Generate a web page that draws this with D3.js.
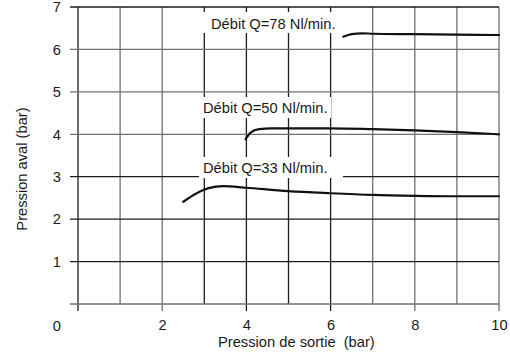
<!DOCTYPE html>
<html>
<head>
<meta charset="utf-8">
<script src="https://cdn.jsdelivr.net/npm/d3@7"></script>
<style>
  html, body { margin: 0; padding: 0; background: #fff; }
  svg text { font-family: "Liberation Sans", Arial, Helvetica, sans-serif; fill: #1a1a1a; }
</style>
</head>
<body>
<svg id="chart" width="510" height="354"></svg>
<script>
// Outlet pressure curves for three flow rates
const flowLabels = ["Débit Q=78 Nl/min.", "Débit Q=50 Nl/min.", "Débit Q=33 Nl/min."];

const q78X = [6.3, 6.5, 6.75, 7, 8, 9, 10];
const q78Y = [6.3, 6.36, 6.38, 6.37, 6.36, 6.35, 6.34];

const q50X = [3.98, 4.1, 4.3, 4.6, 5, 6, 7, 8, 9, 10];
const q50Y = [3.88, 4.04, 4.12, 4.14, 4.14, 4.14, 4.12, 4.09, 4.05, 4.0];

const q33X = [2.5, 2.8, 3.1, 3.45, 4, 5, 6, 7, 8, 9, 10];
const q33Y = [2.41, 2.6, 2.73, 2.78, 2.74, 2.66, 2.61, 2.57, 2.55, 2.54, 2.54];

const xTickValues = [2, 4, 6, 8, 10];
const yTickValues = [1, 2, 3, 4, 5, 6, 7];
const xGridValues = [0, 1, 2, 3, 4, 5, 6, 7, 8, 9, 10];
const yGridValues = [0, 1, 2, 3, 4, 5, 6, 7];

const xTitle = "Pression de sortie  (bar)";
const yTitle = "Pression aval (bar)";

const FS = 14.7;
const svg = d3.select("#chart");
const x = d3.scaleLinear().domain([0, 10]).range([78, 499]);
const y = d3.scaleLinear().domain([0, 7]).range([304, 7]);

const dark = "#1c1c1c", grey = "#707070";
const vShade = v => ([0, 3, 4, 5, 6].includes(v) ? dark : grey);
const hShade = v => ([1, 2, 3, 7].includes(v) ? dark : grey);

// grid
const grid = svg.append("g").attr("stroke-width", 1.3);
grid.selectAll("line.v").data(xGridValues).join("line")
  .attr("class", "v")
  .attr("x1", d => x(d)).attr("x2", d => x(d))
  .attr("y1", y(7))
  .attr("y2", d => (d % 2 === 0 ? y(0) + 7 : y(0)))
  .attr("stroke", d => vShade(d));
grid.selectAll("line.h").data(yGridValues).join("line")
  .attr("class", "h")
  .attr("x1", x(0) - 8).attr("x2", x(10))
  .attr("y1", d => y(d)).attr("y2", d => y(d))
  .attr("stroke", d => hShade(d));

// axes (labels only)
const xAxis = d3.axisBottom(x).tickValues(xTickValues).tickFormat(d3.format("d"))
  .tickSize(0).tickPadding(16);
const gx = svg.append("g").attr("transform", `translate(0,${y(0)})`).call(xAxis);
gx.select(".domain").remove();
gx.selectAll("text").attr("font-size", FS).style("font-family", null);

const yAxis = d3.axisLeft(y).tickValues(yTickValues).tickFormat(d3.format("d"))
  .tickSize(0).tickPadding(9);
const gy = svg.append("g").attr("transform", `translate(${x(0) - 8},0)`).call(yAxis);
gy.select(".domain").remove();
gy.selectAll("text").attr("font-size", FS).style("font-family", null);

// shared origin label
svg.append("text").attr("x", x(0) - 17).attr("y", y(0) + 26.5)
  .attr("text-anchor", "end").attr("font-size", FS).text("0");

// axis titles
svg.append("text").attr("x", 218).attr("y", 346.5).attr("font-size", FS)
  .attr("xml:space", "preserve").style("white-space", "pre").text(xTitle);
svg.append("text").attr("transform", "translate(27,169) rotate(-90)")
  .attr("text-anchor", "middle").attr("font-size", FS).text(yTitle);

// curve labels on white boxes
const labelBoxes = [
  { text: flowLabels[0], bx: 203, by: 12, bw: 140, tx: 211, ty: 28.5 },
  { text: flowLabels[1], bx: 200, by: 97, bw: 131, tx: 203, ty: 112.5 },
  { text: flowLabels[2], bx: 199, by: 157, bw: 144, tx: 203, ty: 172.5 }
];
const lab = svg.append("g");
lab.selectAll("rect").data(labelBoxes).join("rect")
  .attr("x", d => d.bx).attr("y", d => d.by)
  .attr("width", d => d.bw).attr("height", 21)
  .attr("fill", "#fff");
lab.selectAll("text").data(labelBoxes).join("text")
  .attr("x", d => d.tx).attr("y", d => d.ty)
  .attr("font-size", FS).text(d => d.text);

// curves
const line = d3.line().x(d => x(d[0])).y(d => y(d[1])).curve(d3.curveMonotoneX);
const series = [d3.zip(q78X, q78Y), d3.zip(q50X, q50Y), d3.zip(q33X, q33Y)];
svg.append("g").selectAll("path").data(series).join("path")
  .attr("d", line)
  .attr("fill", "none")
  .attr("stroke", "#111")
  .attr("stroke-width", 2.2)
  .attr("stroke-linecap", "round");
</script>
</body>
</html>
